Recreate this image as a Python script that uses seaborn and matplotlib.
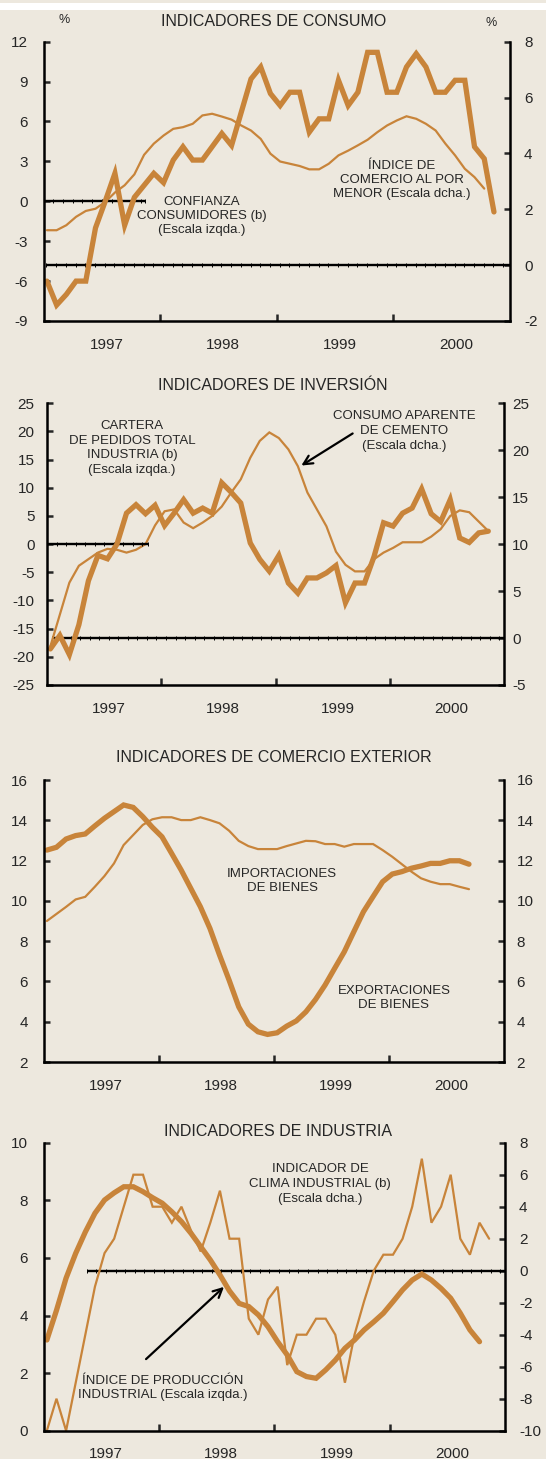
import numpy as np
import matplotlib
matplotlib.use("Agg")
import matplotlib.pyplot as plt
from matplotlib.patches import Rectangle
import seaborn as sns

# ---------------- data (monthly, Jan-1997 onwards) ----------------
years = ["1997", "1998", "1999", "2000"]

# Panel 1: consumo
consumer_confidence = [-6.0, -7.8, -7.0, -6.0, -6.0, -2.0, 0.0, 2.1, -1.8, 0.3, 1.2, 2.1,
                       1.4, 3.1, 4.1, 3.1, 3.1, 4.1, 5.1, 4.2, 6.7, 9.2, 10.1, 8.1,
                       7.2, 8.2, 8.2, 5.2, 6.2, 6.2, 9.1, 7.2, 8.2, 11.2, 11.2, 8.2,
                       8.2, 10.1, 11.1, 10.1, 8.2, 8.2, 9.1, 9.1, 4.1, 3.2, -0.8]
retail_index = [1.25, 1.25, 1.43, 1.73, 1.94, 2.02, 2.26, 2.6, 2.86, 3.25, 3.95, 4.35,
                4.64, 4.88, 4.94, 5.06, 5.36, 5.42, 5.32, 5.21, 5.0, 4.82, 4.52, 3.99,
                3.71, 3.63, 3.55, 3.43, 3.43, 3.63, 3.93, 4.1, 4.29, 4.49, 4.76, 5.0,
                5.18, 5.33, 5.24, 5.06, 4.82, 4.35, 3.93, 3.45, 3.15, 2.74]

# Panel 2: inversión
order_book = [-18.6, -16.2, -19.6, -14.3, -6.5, -2.0, -2.6, 0.0, 5.5, 7.0, 5.4, 6.9,
              3.3, 5.5, 7.9, 5.5, 6.4, 5.5, 10.9, 9.2, 7.3, 0.2, -2.7, -4.8,
              -2.0, -6.9, -8.7, -6.0, -6.0, -5.1, -3.8, -10.4, -6.9, -6.9, -2.2, 3.8,
              3.2, 5.5, 6.4, 9.8, 5.4, 4.0, 7.9, 1.1, 0.3, 2.0, 2.3]
cement = [-0.9, 2.5, 5.9, 7.7, 8.4, 9.1, 9.5, 9.4, 9.1, 9.4, 10.0, 12.0,
          13.5, 13.7, 12.3, 11.7, 12.3, 13.0, 14.0, 15.5, 16.9, 19.2, 21.0, 21.9,
          21.3, 20.1, 18.3, 15.5, 13.7, 11.9, 9.2, 7.8, 7.1, 7.1, 8.4, 9.1,
          9.6, 10.2, 10.2, 10.2, 10.8, 11.6, 13.0, 13.6, 13.4, 12.4, 11.4]

# Panel 3: comercio exterior
exports = [12.52, 12.66, 13.07, 13.24, 13.32, 13.72, 14.1, 14.43, 14.76, 14.64, 14.18, 13.65,
           13.18, 12.36, 11.53, 10.62, 9.71, 8.63, 7.31, 6.06, 4.74, 3.88, 3.5, 3.37,
           3.45, 3.78, 4.04, 4.49, 5.1, 5.82, 6.65, 7.47, 8.47, 9.46, 10.21, 10.95,
           11.33, 11.45, 11.62, 11.73, 11.86, 11.86, 11.99, 11.99, 11.82]
imports = [9.0, 9.35, 9.7, 10.07, 10.2, 10.7, 11.23, 11.86, 12.77, 13.27, 13.77, 14.05,
           14.15, 14.15, 14.01, 14.01, 14.15, 14.01, 13.85, 13.48, 12.98, 12.72, 12.57, 12.57,
           12.57, 12.72, 12.85, 12.98, 12.96, 12.82, 12.82, 12.69, 12.82, 12.82, 12.82, 12.52,
           12.19, 11.82, 11.45, 11.12, 10.95, 10.83, 10.83, 10.7, 10.58]

# Panel 4: industria
industrial_production = [3.15, 4.18, 5.3, 6.16, 6.9, 7.55, 8.01, 8.26, 8.47, 8.47, 8.3, 8.09,
                         7.9, 7.6, 7.26, 6.85, 6.39, 5.93, 5.41, 4.85, 4.42, 4.31, 4.02, 3.61,
                         3.09, 2.63, 2.05, 1.88, 1.82, 2.11, 2.45, 2.86, 3.15, 3.5, 3.78, 4.08,
                         4.48, 4.89, 5.23, 5.44, 5.23, 4.94, 4.6, 4.08, 3.5, 3.09]
industrial_climate = [-10, -8, -10, -7, -4, -1, 1.1, 2, 4, 6, 6, 4,
                      4, 3, 4, 2.5, 1.2, 3, 5, 2, 2, -3, -4, -1.8,
                      -1, -5.9, -4, -4, -3, -3, -4, -7, -4, -1.9, 0, 1,
                      1, 2, 4, 7, 3, 4, 6, 2, 1, 3, 2]

# ---------------- styling ----------------
sns.set_style("ticks")
plt.rcParams["font.family"] = ["Liberation Sans", "DejaVu Sans"]

BG = "#EDE8DE"
LC = "#C8843A"
W, H = 546, 1459
OFF = 0.35

fig = plt.figure(figsize=(W / 100, H / 100), dpi=100, facecolor=BG)
fig.add_artist(Rectangle((0, 1 - 9.5 / H), 1, 6.5 / H, transform=fig.transFigure,
                         facecolor="white", edgecolor="none"))


def rect(l, r, t, b):
    return [l / W, 1 - b / H, (r - l) / W, (b - t) / H]


def F(x, y):
    return (x / W, 1 - y / H)


def make_panel(box, ylim_l, yt_l, ylim_r, yt_r, lpad, rpad):
    ax = fig.add_axes(rect(*box))
    ax2 = ax.twinx()
    ax.set_zorder(ax2.get_zorder() + 1)
    ax.patch.set_visible(False)
    ax2.set_facecolor(BG)
    ax.set_xlim(0, 48)
    ax.set_ylim(*ylim_l)
    ax.set_yticks(yt_l)
    ax.set_yticklabels([str(v) for v in yt_l])
    ax2.set_ylim(*ylim_r)
    ax2.set_yticks(yt_r)
    ax2.set_yticklabels([str(v) for v in yt_r])
    for s in ["top", "right"]:
        ax.spines[s].set_visible(False)
    for s in ["top", "left", "bottom"]:
        ax2.spines[s].set_visible(False)
    for s in ["left", "bottom"]:
        ax.spines[s].set_linewidth(1.8)
        ax.spines[s].set_color("black")
    ax2.spines["right"].set_linewidth(1.8)
    ax2.spines["right"].set_color("black")
    ax.set_xticks([12, 24, 36])
    ax.set_xticklabels([])
    ax.set_xticks([6.5, 18.5, 30.5, 42.5], minor=True)
    ax.set_xticklabels(years, minor=True)
    ax.tick_params(axis="x", which="major", direction="in", length=5, width=1.8, bottom=True)
    ax.tick_params(axis="x", which="minor", length=0, pad=12, labelsize=11)
    ax.tick_params(axis="y", which="both", direction="in", length=4, width=1.8,
                   pad=lpad, labelsize=11, left=True, right=False)
    ax2.tick_params(axis="y", which="both", direction="in", length=4, width=1.8,
                    pad=rpad, labelsize=11, right=True, left=False)
    ax.grid(False)
    ax2.grid(False)
    ax.set_xlabel("")
    ax.set_ylabel("")
    ax2.set_ylabel("")
    return ax, ax2


def zero_line(ax, x0, x1):
    xs = np.arange(x0, x1 + 0.001, 1.0)
    if xs[-1] < x1:
        xs = np.append(xs, x1)
    ax.plot(xs, np.zeros(len(xs)), color="black", lw=1.7, marker="|", ms=2.5,
            mew=0.7, solid_capstyle="butt", zorder=1)


def series(ax, vals, lw):
    x = np.arange(len(vals)) + OFF
    sns.lineplot(x=x, y=vals, ax=ax, color=LC, linewidth=lw, legend=False,
                 zorder=2, solid_joinstyle="miter")
    ax.set_xlabel("")
    ax.set_ylabel("")


THICK, THIN = 3.8, 1.6
TS, AS = 11.5, 9.5

# ---------------- Panel 1 ----------------
a1, b1 = make_panel((43.5, 510, 41.7, 321), (-9, 12), list(range(-9, 13, 3)),
                    (-2, 8), list(range(-2, 9, 2)), 11, 10)
zero_line(a1, 0, 10.4)
zero_line(b1, 0.3, 48)
series(b1, retail_index, THIN)
series(a1, consumer_confidence, THICK)
fig.text(*F(274, 21), "INDICADORES DE CONSUMO", ha="center", va="center", fontsize=TS)
fig.text(*F(64, 20), "%", ha="center", va="center", fontsize=9)
fig.text(*F(491, 23), "%", ha="center", va="center", fontsize=9)
fig.text(*F(202, 216), "CONFIANZA\nCONSUMIDORES (b)\n(Escala izqda.)", ha="center",
         va="center", fontsize=AS, linespacing=1.2)
fig.text(*F(402, 180), "ÍNDICE DE\nCOMERCIO AL POR\nMENOR (Escala dcha.)", ha="center",
         va="center", fontsize=AS, linespacing=1.2)

# ---------------- Panel 2 ----------------
a2, b2 = make_panel((47, 504, 403.3, 685), (-25, 25), list(range(-25, 26, 5)),
                    (-5, 25), list(range(-5, 26, 5)), 9, 6)
zero_line(a2, 0, 10.6)
zero_line(b2, 0.5, 48)
series(b2, cement, THIN)
series(a2, order_book, THICK)
fig.text(*F(273, 385), "INDICADORES DE INVERSIÓN", ha="center", va="center", fontsize=TS)
fig.text(*F(132, 448), "CARTERA\nDE PEDIDOS TOTAL\nINDUSTRIA (b)\n(Escala izqda.)",
         ha="center", va="center", fontsize=AS, linespacing=1.3)
fig.text(*F(404, 431), "CONSUMO APARENTE\nDE CEMENTO\n(Escala dcha.)", ha="center",
         va="center", fontsize=AS, linespacing=1.3)
fig.add_artist(matplotlib.patches.FancyArrowPatch(
    F(355, 432), F(299, 467), transform=fig.transFigure, arrowstyle="->",
    mutation_scale=16, lw=1.6, color="black"))

# ---------------- Panel 3 ----------------
a3, b3 = make_panel((43.5, 504, 780, 1062), (2, 16), list(range(2, 17, 2)),
                    (2, 16), list(range(2, 17, 2)), 11, 9)
series(b3, imports, THIN)
series(a3, exports, THICK)
fig.text(*F(274, 757), "INDICADORES DE COMERCIO EXTERIOR", ha="center", va="center",
         fontsize=TS)
fig.text(*F(282, 881), "IMPORTACIONES\nDE BIENES", ha="center", va="center",
         fontsize=AS, linespacing=1.3)
fig.text(*F(394, 998), "EXPORTACIONES\nDE BIENES", ha="center", va="center",
         fontsize=AS, linespacing=1.3)

# ---------------- Panel 4 ----------------
a4, b4 = make_panel((43.5, 505, 1142.7, 1430.7), (0, 10), list(range(0, 11, 2)),
                    (-10, 8), list(range(-10, 9, 2)), 11, 10)
zero_line(b4, 4.5, 48)
series(b4, industrial_climate, THIN)
series(a4, industrial_production, THICK)
fig.text(*F(278, 1132), "INDICADORES DE INDUSTRIA", ha="center", va="center", fontsize=TS)
fig.text(*F(320, 1184), "INDICADOR DE\nCLIMA INDUSTRIAL (b)\n(Escala dcha.)", ha="center",
         va="center", fontsize=AS, linespacing=1.3)
fig.text(*F(163, 1388), "ÍNDICE DE PRODUCCIÓN\nINDUSTRIAL (Escala izqda.)", ha="center",
         va="center", fontsize=AS, linespacing=1.3)
fig.add_artist(matplotlib.patches.FancyArrowPatch(
    F(144, 1361), F(226, 1285), transform=fig.transFigure, arrowstyle="->",
    mutation_scale=16, lw=1.6, color="black"))

fig.savefig("out.png", dpi=100, facecolor=BG)
